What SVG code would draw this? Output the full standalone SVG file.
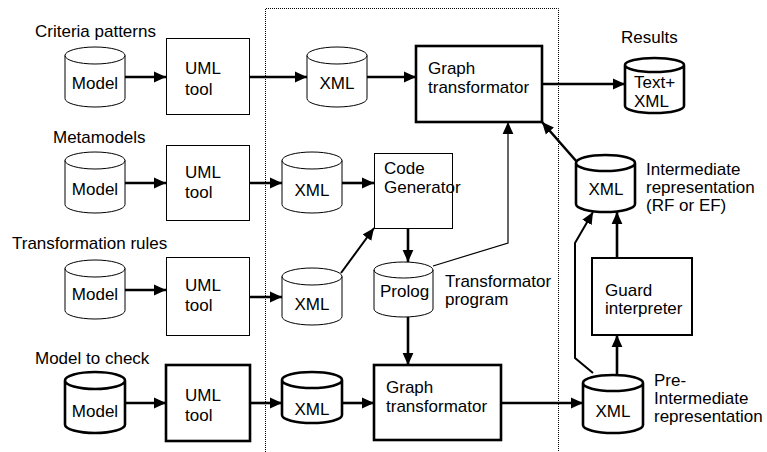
<svg xmlns="http://www.w3.org/2000/svg" width="767" height="452" viewBox="0 0 767 452">
  <defs>
    <marker id="arr" markerUnits="userSpaceOnUse" markerWidth="12" markerHeight="12" viewBox="0 0 10 10" refX="10" refY="5" orient="auto">
      <path d="M0,0.5 L10,5 L0,9.5 Z" fill="#000"/>
    </marker>
  </defs>
  <style>
    text { font-family: "Liberation Sans", Arial, sans-serif; font-size: 17px; fill: #000; }
    .mid { text-anchor: middle; }
    .thin { fill: #fff; stroke: #000; stroke-width: 1; }
    .med { fill: #fff; stroke: #000; stroke-width: 2; }
    .thick { fill: #fff; stroke: #000; stroke-width: 2.6; }
    .c { fill: none; stroke: #000; stroke-width: 2.6; marker-end: url(#arr); }
    .c1 { fill: none; stroke: #000; stroke-width: 1.2; marker-end: url(#arr); }
    .c2 { fill: none; stroke: #000; stroke-width: 2; marker-end: url(#arr); }
    .frame { fill: none; stroke: #000; stroke-width: 1; stroke-dasharray: 1 1; }
  </style>

  <!-- dotted frame around the transformation core -->
  <path class="frame" d="M265.5,460 V8.5 H558.5 V460"/>

  <!-- group labels -->
  <text x="35" y="37">Criteria patterns</text>
  <text x="53" y="143">Metamodels</text>
  <text x="12" y="249">Transformation rules</text>
  <text x="35" y="364">Model to check</text>

  <!-- row 1: criteria patterns -->
  <g id="cp_model">
    <path class="thin" d="M65,55.5 V98.5 A30,8.5 0 0 0 125,98.5 V55.5 A30,8.5 0 0 0 65,55.5 A30,8.5 0 0 0 125,55.5"/>
    <text class="mid" x="95" y="89">Model</text>
  </g>
  <g id="cp_uml">
    <rect class="thin" x="166.5" y="38.5" width="83" height="76"/>
    <text x="185" y="74">UML</text>
    <text x="185" y="95">tool</text>
  </g>
  <g id="cp_xml">
    <path class="thin" d="M307,55.5 V98.5 A30,8.5 0 0 0 367,98.5 V55.5 A30,8.5 0 0 0 307,55.5 A30,8.5 0 0 0 367,55.5"/>
    <text class="mid" x="337" y="89">XML</text>
  </g>
  <g id="graph_transformator_top">
    <rect class="thick" x="416" y="46" width="126" height="76"/>
    <text x="428" y="74">Graph</text>
    <text x="428" y="93">transformator</text>
  </g>
  <g id="results">
    <path class="thick" d="M625,65 V106 A29.5,7 0 0 0 684,106 V65 A29.5,7 0 0 0 625,65 A29.5,7 0 0 0 684,65"/>
    <text x="621" y="43">Results</text>
    <text x="634" y="88">Text+</text>
    <text x="634" y="107">XML</text>
  </g>

  <!-- row 2: metamodels -->
  <g id="mm_model">
    <path class="thin" d="M65,160.5 V204.5 A30,8.5 0 0 0 125,204.5 V160.5 A30,8.5 0 0 0 65,160.5 A30,8.5 0 0 0 125,160.5"/>
    <text class="mid" x="95" y="195">Model</text>
  </g>
  <g id="mm_uml">
    <rect class="thin" x="166.5" y="145.5" width="83" height="75"/>
    <text x="185" y="178">UML</text>
    <text x="185" y="198">tool</text>
  </g>
  <g id="mm_xml">
    <path class="thin" d="M282,160.5 V204.5 A30,8.5 0 0 0 342,204.5 V160.5 A30,8.5 0 0 0 282,160.5 A30,8.5 0 0 0 342,160.5"/>
    <text class="mid" x="312" y="196">XML</text>
  </g>
  <g id="code_generator">
    <rect class="thin" x="374.5" y="153.5" width="78" height="75"/>
    <text x="384" y="174">Code</text>
    <text x="384" y="193">Generator</text>
  </g>

  <!-- row 3: transformation rules -->
  <g id="tr_model">
    <path class="thin" d="M65,268.5 V310.5 A30,8.5 0 0 0 125,310.5 V268.5 A30,8.5 0 0 0 65,268.5 A30,8.5 0 0 0 125,268.5"/>
    <text class="mid" x="95" y="300">Model</text>
  </g>
  <g id="tr_uml">
    <rect class="thin" x="166.5" y="257.5" width="83" height="78"/>
    <text x="185" y="291">UML</text>
    <text x="185" y="311">tool</text>
  </g>
  <g id="tr_xml">
    <path class="thin" d="M282,276.5 V316.5 A30,8.5 0 0 0 342,316.5 V276.5 A30,8.5 0 0 0 282,276.5 A30,8.5 0 0 0 342,276.5"/>
    <text class="mid" x="312" y="310">XML</text>
  </g>
  <g id="prolog">
    <path class="thin" d="M374,270 V309 A29.5,8 0 0 0 433,309 V270 A29.5,8 0 0 0 374,270 A29.5,8 0 0 0 433,270"/>
    <text x="380" y="297">Prolog</text>
    <text x="445" y="287">Transformator</text>
    <text x="445" y="305">program</text>
  </g>

  <!-- row 4: model to check -->
  <g id="mc_model">
    <path class="thick" d="M65,380.5 V424.5 A30,8.5 0 0 0 125,424.5 V380.5 A30,8.5 0 0 0 65,380.5 A30,8.5 0 0 0 125,380.5"/>
    <text class="mid" x="95" y="417">Model</text>
  </g>
  <g id="mc_uml">
    <rect class="thick" x="166" y="365" width="84" height="76"/>
    <text x="185" y="401">UML</text>
    <text x="185" y="421">tool</text>
  </g>
  <g id="mc_xml">
    <path class="thick" d="M282,380 V415 A30,8 0 0 0 342,415 V380 A30,8 0 0 0 282,380 A30,8 0 0 0 342,380"/>
    <text class="mid" x="312" y="415">XML</text>
  </g>
  <g id="graph_transformator_bottom">
    <rect class="thick" x="374" y="365" width="127" height="75"/>
    <text x="386" y="393">Graph</text>
    <text x="386" y="412">transformator</text>
  </g>
  <g id="pre_intermediate">
    <path class="thick" d="M583,383 V425 A30,8 0 0 0 643,425 V383 A30,8 0 0 0 583,383 A30,8 0 0 0 643,383"/>
    <text class="mid" x="613" y="417">XML</text>
    <text x="654" y="386">Pre-</text>
    <text x="654" y="404">Intermediate</text>
    <text x="654" y="422">representation</text>
  </g>
  <g id="guard_interpreter">
    <rect class="med" x="592" y="258" width="100" height="77"/>
    <text x="605" y="296">Guard</text>
    <text x="605" y="314">interpreter</text>
  </g>
  <g id="intermediate">
    <path class="thick" d="M576,163 V204 A29.5,8 0 0 0 635,204 V163 A29.5,8 0 0 0 576,163 A29.5,8 0 0 0 635,163"/>
    <text class="mid" x="606" y="195">XML</text>
    <text x="646" y="175">Intermediate</text>
    <text x="646" y="193">representation</text>
    <text x="646" y="211">(RF or EF)</text>
  </g>

  <!-- connectors -->
  <g id="connectors">
    <path class="c" d="M125,77 H166"/>
    <path class="c" d="M249,77 H307"/>
    <path class="c" d="M367,77 H416"/>
    <path class="c" d="M542,84 H625"/>
    <path class="c" d="M577,162 L542,122"/>
    <path class="c1" d="M433,266 L508,243 V122"/>

    <path class="c" d="M125,183 H166"/>
    <path class="c" d="M249,183 H282"/>
    <path class="c" d="M342,183 H374"/>
    <path class="c" d="M408,228 V262"/>
    <path class="c2" d="M341,273 L374,228"/>

    <path class="c" d="M125,290 H166"/>
    <path class="c" d="M249,297 H282"/>
    <path class="c" d="M408,317 V365"/>

    <path class="c" d="M125,403 H166"/>
    <path class="c" d="M250,403 H282"/>
    <path class="c" d="M342,403 H374"/>
    <path class="c" d="M501,403 H583"/>
    <path class="c" d="M617,375 V335"/>
    <path class="c" d="M617,258 V212"/>
    <path class="c2" d="M593,373 L575,358 V243 L593,212"/>
  </g>
</svg>
